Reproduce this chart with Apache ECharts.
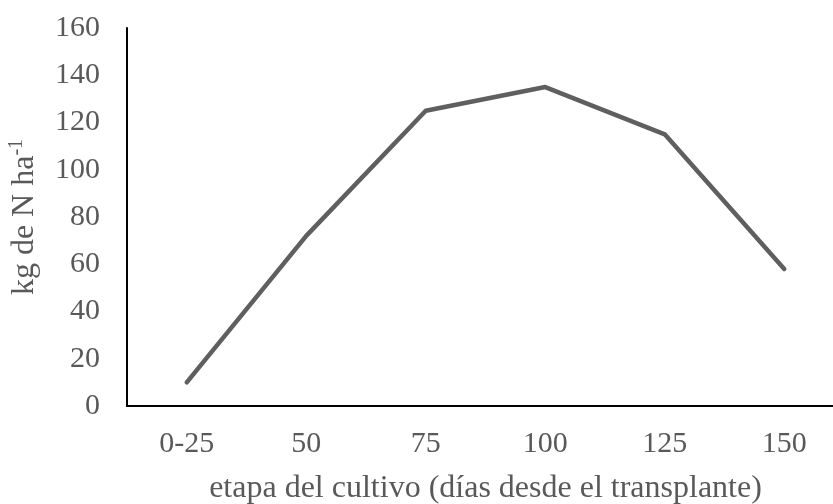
<!DOCTYPE html>
<html>
<head>
<meta charset="utf-8">
<script src="https://cdn.jsdelivr.net/npm/echarts@6/dist/echarts.min.js"></script>
<style>
html,body{margin:0;padding:0;background:#fff;}
#chart{width:833px;height:504px;}
</style>
</head>
<body>
<div id="chart"></div>
<script>
var categories = ['0-25', '50', '75', '100', '125', '150'];
var nitrogen = [10, 72, 125, 135, 115, 58];
var yTicks = [0, 20, 40, 60, 80, 100, 120, 140, 160];
var xTitle = 'etapa del cultivo (días desde el transplante)';

var chart = echarts.init(document.getElementById('chart'), null, {renderer: 'canvas'});
var font = '"Liberation Serif", "Times New Roman", serif';
chart.setOption({
  backgroundColor: '#ffffff',
  animation: false,
  grid: {left: 127, right: -11, top: 28, bottom: 98, containLabel: false, outerBoundsMode: 'none'},
  xAxis: {
    type: 'category',
    data: categories,
    boundaryGap: true,
    axisLine: {show: true, lineStyle: {color: '#000000', width: 2}},
    axisTick: {show: false},
    axisLabel: {color: '#595959', fontFamily: font, fontSize: 30, margin: 23},
    name: xTitle,
    nameLocation: 'middle',
    nameGap: 67,
    nameTextStyle: {color: '#595959', fontFamily: font, fontSize: 32}
  },
  yAxis: {
    type: 'value',
    min: yTicks[0],
    max: yTicks[yTicks.length - 1],
    interval: yTicks[1] - yTicks[0],
    axisLine: {show: true, lineStyle: {color: '#000000', width: 2}},
    axisTick: {show: false},
    splitLine: {show: false},
    axisLabel: {color: '#595959', fontFamily: font, fontSize: 30, margin: 27},
    name: '{a|kg de N ha}{s|-1}',
    nameLocation: 'middle',
    nameGap: 84,
    nameRotate: 90,
    nameTextStyle: {
      color: '#595959', fontFamily: font, fontSize: 32,
      rich: {
        a: {color: '#595959', fontFamily: font, fontSize: 32},
        s: {color: '#595959', fontFamily: font, fontSize: 20, verticalAlign: 'top', padding: [0, 0, 16, 0]}
      }
    }
  },
  series: [{
    type: 'line',
    data: nitrogen,
    showSymbol: false,
    symbol: 'none',
    lineStyle: {color: '#5f5f5f', width: 4.5, cap: 'round', join: 'round'}
  }]
});
</script>
</body>
</html>
